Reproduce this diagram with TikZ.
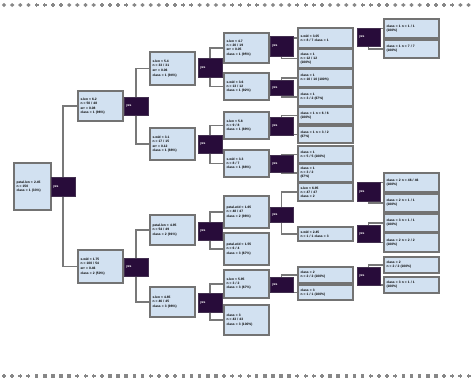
\documentclass[tikz,border=0pt]{standalone}
\usepackage{fontspec}
\setmainfont{Liberation Sans}
\usetikzlibrary{backgrounds}
\definecolor{boxfill}{RGB}{210,225,241}
\definecolor{boxline}{RGB}{115,115,115}
\definecolor{darkp}{RGB}{40,12,58}
\definecolor{connc}{RGB}{120,120,120}
\definecolor{dotc}{RGB}{135,135,135}
\tikzset{
  lbox/.style={draw=boxline, line width=1.3pt, fill=boxfill, inner xsep=2.5pt, inner ysep=0pt,
    align=left, font=\fontsize{3.3}{4.1}\selectfont\bfseries, text=black},
  wR/.style={text width=32pt},
  wM/.style={text width=40pt},
  wL/.style={text width=50pt},
  dbox/.style={fill=darkp, draw=darkp!70!gray, line width=0.6pt, inner xsep=2pt, inner ysep=0pt,
    align=left, font=\fontsize{3.3}{4.1}\selectfont\bfseries, text=white},
  dM/.style={text width=20pt},
  dS/.style={text width=19pt},
  conn/.style={draw=connc, line width=1.1pt},
}
\begin{document}
\begin{tikzpicture}[x=1pt,y=-1pt]
\useasboundingbox (0,0) rectangle (473,381);
% dotted borders
\foreach \i in {0,...,57}{
  \pgfmathsetmacro\xx{4+8.15*\i}
  \pgfmathtruncatemacro\m{mod(\i,8)}
  \ifnum\m<4
    \fill[dotc] (\xx,3) -- (\xx+2.2,5) -- (\xx,7) -- (\xx-2.2,5) -- cycle;
  \else
    \fill[dotc] (\xx-2,4.3) rectangle (\xx+2,5.7);
    \fill[dotc] (\xx-0.7,3) rectangle (\xx+0.7,7);
  \fi
  \pgfmathtruncatemacro\n{mod(\i,9)}
  \ifnum\n<4
    \fill[dotc] (\xx-2,375.3) rectangle (\xx+2,376.7);
    \fill[dotc] (\xx-0.7,374) rectangle (\xx+0.7,378);
  \else
    \fill[dotc] (\xx-1.8,374.2) rectangle (\xx+1.8,377.8);
  \fi
}
% ---------- light boxes ----------
\node[lbox,wR,minimum height=47pt] (R) at (32.5,186.5) {petal.len < 2.45\\ n = 150\\ class = 1 (33\%)};
\node[lbox,wM,minimum height=30pt] (B1) at (100.5,106) {x.len < 6.2\\ n = 50 / 48\\[1pt] err = 0.08\\ class = 1 (96\%)};
\node[lbox,wM,minimum height=33pt] (B2) at (100.5,266.5) {x.wid < 1.75\\ n = 100 / 54\\[1pt] err = 0.46\\ class = 2 (50\%)};
\node[lbox,wM,minimum height=33pt] (C1) at (172.5,68.5) {x.len < 5.4\\ n = 33 / 31\\[1pt] err = 0.06\\ class = 1 (94\%)};
\node[lbox,wM,minimum height=32pt] (C2) at (172.5,144) {x.wid < 3.1\\ n = 17 / 15\\[1pt] err = 0.12\\ class = 1 (88\%)};
\node[lbox,wM,minimum height=30pt] (C3) at (172.5,230) {petal.len < 4.95\\ n = 54 / 49\\[1pt] class = 2 (91\%)};
\node[lbox,wM,minimum height=30pt] (C4) at (172.5,302) {x.len < 4.85\\ n = 46 / 45\\[1pt] class = 3 (98\%)};
\node[lbox,wM,minimum height=30pt] (D1) at (246.5,48) {x.len < 4.7\\ n = 20 / 19\\ err = 0.05\\ class = 1 (95\%)};
\node[lbox,wM,minimum height=27pt] (D2) at (246.5,86.5) {x.wid < 3.6\\ n = 13 / 12\\ class = 1 (92\%)};
\node[lbox,wM,minimum height=27pt] (D3) at (246.5,125.5) {x.len < 5.8\\ n = 9 / 8\\ class = 1 (89\%)};
\node[lbox,wM,minimum height=27pt] (D4) at (246.5,163.5) {x.wid < 3.3\\ n = 8 / 7\\ class = 1 (88\%)};
\node[lbox,wM,minimum height=32pt] (D5) at (246.5,212) {petal.wid < 1.65\\ n = 48 / 47\\[1pt] class = 2 (98\%)};
\node[lbox,wM,minimum height=32pt] (D6) at (246.5,249) {petal.wid < 1.55\\ n = 6 / 4\\[1pt] class = 3 (67\%)};
\node[lbox,wM,minimum height=28pt] (D7) at (246.5,284) {x.len < 5.95\\ n = 3 / 2\\ class = 3 (67\%)};
\node[lbox,wM,minimum height=30pt] (D8) at (246.5,320) {class = 3\\ n = 43 / 43\\[1pt] class = 3 (100\%)};
\node[lbox,wL,minimum height=20pt] (E1) at (325.5,38) {x.wid < 3.05\\ n = 8 / 7 class = 1};
\node[lbox,wL,minimum height=19pt] (E2) at (325.5,58.5) {class = 1\\ n = 12 / 12\\ (100\%)};
\node[lbox,wL,minimum height=18pt] (E3) at (325.5,78) {class = 1\\ n = 10 / 10 (100\%)};
\node[lbox,wL,minimum height=18pt] (E4) at (325.5,97) {class = 1\\ n = 3 / 2 (67\%)};
\node[lbox,wL,minimum height=17pt] (E5) at (325.5,115.5) {class = 1 n = 6 / 6\\ (100\%)};
\node[lbox,wL,minimum height=17pt] (E6) at (325.5,134.5) {class = 1 n = 3 / 2\\ (67\%)};
\node[lbox,wL,minimum height=17pt] (E7) at (325.5,154.5) {class = 1\\ n = 5 / 5 (100\%)};
\node[lbox,wL,minimum height=18pt] (E8) at (325.5,173) {class = 1\\ n = 3 / 2\\ (67\%)};
\node[lbox,wL,minimum height=18pt] (E9) at (325.5,192) {x.len < 6.95\\ n = 47 / 47\\ class = 2};
\node[lbox,wL,minimum height=14pt] (E10) at (325.5,234) {x.wid < 2.45\\ n = 1 / 1 class = 3};
\node[lbox,wL,minimum height=16pt] (E11) at (325.5,275) {class = 2\\ n = 2 / 2 (100\%)};
\node[lbox,wL,minimum height=15pt] (E12) at (325.5,292.5) {class = 3\\ n = 1 / 1 (100\%)};
\node[lbox,wL,minimum height=19pt] (F1) at (411.5,28.5) {class = 1 n = 1 / 1\\ (100\%)};
\node[lbox,wL,minimum height=18pt] (F2) at (411.5,49) {class = 1 n = 7 / 7\\ (100\%)};
\node[lbox,wL,minimum height=19pt] (F3) at (411.5,182.5) {class = 2 n = 46 / 46\\ (100\%)};
\node[lbox,wL,minimum height=18pt] (F4) at (411.5,203) {class = 2 n = 1 / 1\\ (100\%)};
\node[lbox,wL,minimum height=18pt] (F5) at (411.5,223) {class = 3 n = 1 / 1\\ (100\%)};
\node[lbox,wL,minimum height=19pt] (F6) at (411.5,242.5) {class = 2 n = 2 / 2\\ (100\%)};
\node[lbox,wL,minimum height=16pt] (F7) at (411.5,265) {class = 2\\ n = 2 / 2 (100\%)};
\node[lbox,wL,minimum height=16pt] (F8) at (411.5,285) {class = 3 n = 1 / 1\\ (100\%)};
% ---------- dark boxes ----------
\node[dbox,dM,minimum height=19pt] (dR) at (63,186.5) {yes};
\node[dbox,dM,minimum height=18pt] (dB1) at (136,106) {yes};
\node[dbox,dM,minimum height=18pt] (dB2) at (136,267) {yes};
\node[dbox,dM,minimum height=19pt] (dC1) at (210,67.5) {yes};
\node[dbox,dM,minimum height=18pt] (dC2) at (210,144) {yes};
\node[dbox,dM,minimum height=18pt] (dC3) at (210,231) {yes};
\node[dbox,dM,minimum height=19pt] (dC4) at (210,302.5) {yes};
\node[dbox,dS,minimum height=20pt] (dD1) at (281.5,46) {yes};
\node[dbox,dS,minimum height=15pt] (dD2) at (281.5,87.5) {yes};
\node[dbox,dS,minimum height=18pt] (dD3) at (281.5,126) {yes};
\node[dbox,dS,minimum height=17pt] (dD4) at (281.5,163.5) {yes};
\node[dbox,dS,minimum height=15pt] (dD5) at (281.5,214.5) {yes};
\node[dbox,dS,minimum height=15pt] (dD7) at (281.5,284.5) {yes};
\node[dbox,dS,minimum height=18pt] (dE1) at (368.5,37) {yes};
\node[dbox,dS,minimum height=19pt] (dE9) at (368.5,192) {yes};
\node[dbox,dS,minimum height=17pt] (dE10) at (368.5,233.5) {yes};
\node[dbox,dS,minimum height=18pt] (dE11) at (368.5,276) {yes};
% ---------- connectors ----------
\begin{scope}[on background layer]
\fill[white] (0,0) rectangle (473,381);
\foreach \p/\a/\b in {dR/B1/B2, dB1/C1/C2, dB2/C3/C4, dC1/D1/D2, dC2/D3/D4, dC3/D5/D6,
  dC4/D7/D8, dD1/E1/E2, dD2/E3/E4, dD3/E5/E6, dD4/E7/E8, dD5/E9/E10, dD7/E11/E12,
  dE1/F1/F2, dE9/F3/F4, dE10/F5/F6, dE11/F7/F8}{
  \draw[conn] (\p.center) |- (\a.west);
  \draw[conn] (\p.center) |- (\b.west);
}
\end{scope}
\end{tikzpicture}
\end{document}
